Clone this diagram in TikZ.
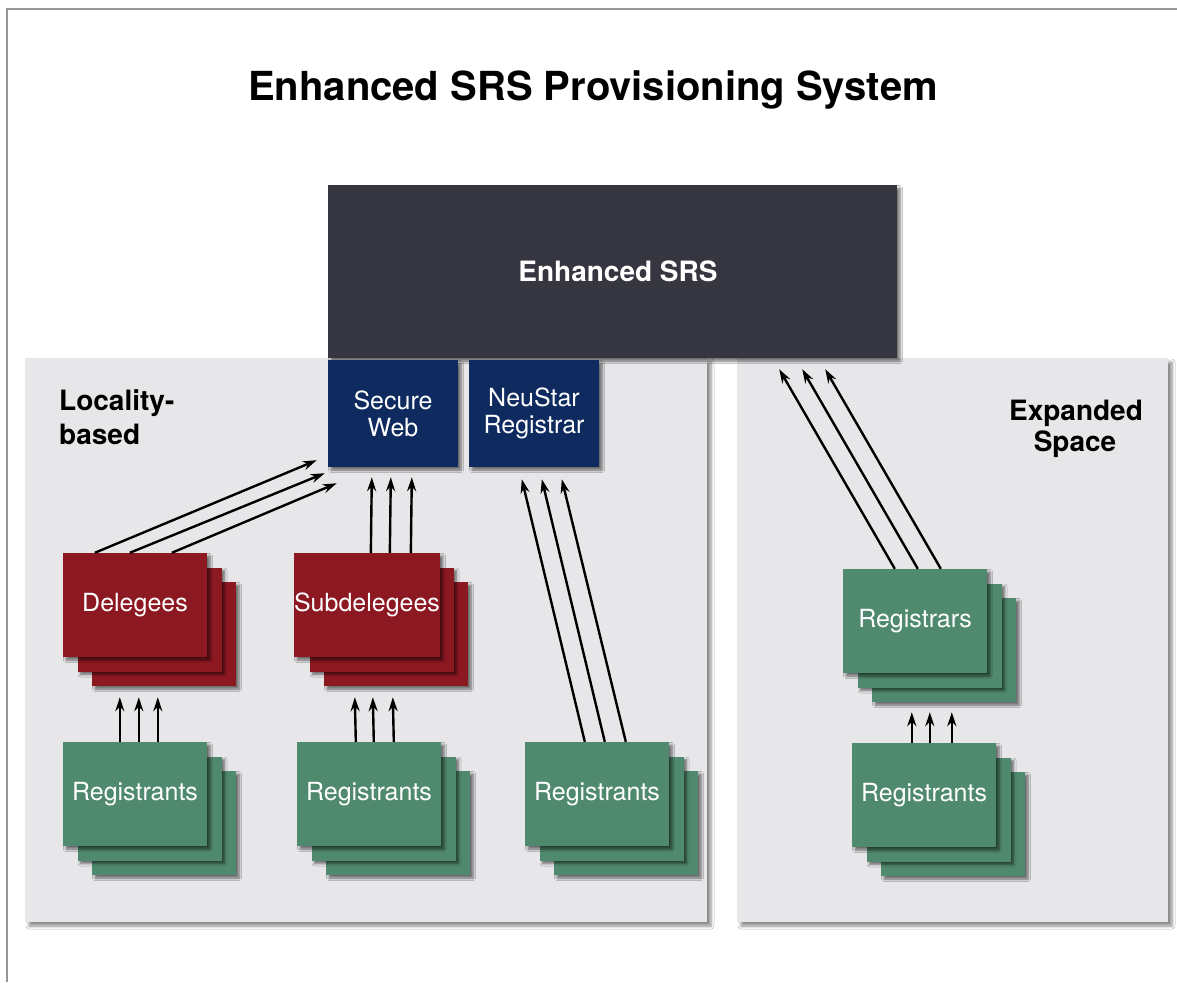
\documentclass[tikz,border=0pt]{standalone}
\usepackage{fontspec}
\setmainfont{TeX Gyre Heros}
\usetikzlibrary{shadows.blur,arrows.meta,calc}
\definecolor{srsdark}{RGB}{54,54,64}
\definecolor{navy}{RGB}{14,42,94}
\definecolor{cardred}{RGB}{140,24,34}
\definecolor{cardgreen}{RGB}{80,138,110}
\definecolor{panelgray}{RGB}{231,231,234}
\definecolor{framegray}{RGB}{150,150,150}
\tikzset{
  softshadow/.style={blur shadow={shadow xshift=3pt,shadow yshift=-3pt,shadow blur radius=2.5pt,shadow blur steps=6,shadow opacity=55}},
  panel/.style={rectangle,fill=panelgray,draw=none,inner sep=0pt,
    blur shadow={shadow xshift=4pt,shadow yshift=-4pt,shadow blur radius=3pt,shadow blur steps=6,shadow opacity=45}},
  card/.style={rectangle,minimum width=144pt,minimum height=104pt,inner sep=0pt,
    draw=none,text=white,font=\fontsize{25}{28}\selectfont,softshadow},
  bluebox/.style={rectangle,fill=navy,minimum width=130pt,minimum height=107pt,
    inner sep=0pt,text=white,align=center,font=\fontsize{25}{27}\selectfont,softshadow},
  lbl/.style={font=\bfseries\fontsize{28}{32}\selectfont,inner sep=0pt},
  conn/.style={line width=2.4pt,-{Stealth[length=14pt,width=9pt]}},
}
\newcommand{\cardstack}[5]{%
  \node[card,fill=#4] (#1c) at ({#2+72+29},{#3+52+29}) {};
  \node[card,fill=#4] (#1b) at ({#2+72+14.5},{#3+52+14.5}) {};
  \node[card,fill=#4] (#1) at ({#2+72},{#3+52}) {#5};
}
\begin{document}
\begin{tikzpicture}[x=1pt,y=-1pt]
\useasboundingbox (0,0) rectangle (1177,982);
\fill[white] (0,0) rectangle (1177,982);
\draw[framegray,line width=2pt] (7,982) -- (7,9) -- (1177,9);

\node[font=\bfseries\fontsize{40}{48}\selectfont,anchor=base] (title) at (593,100) {Enhanced SRS Provisioning System};

% panels
\node[panel,minimum width=682pt,minimum height=564pt] (leftpanel) at (366,640) {};
\node[panel,minimum width=431pt,minimum height=564pt] (rightpanel) at (952.5,640) {};

% central system
\node[rectangle,fill=srsdark,minimum width=569pt,minimum height=173pt,inner sep=0pt,
  text=white,font=\bfseries\fontsize{28}{32}\selectfont,softshadow] (srs) at (612.5,271.5) {\hspace*{11pt}Enhanced SRS};
\node[bluebox] (sw) at (393,413.5) {Secure\\Web};
\node[bluebox] (ns) at (534,413.5) {NeuStar\\Registrar};

% labels
\node[lbl,anchor=base west] (loc1) at (59,410) {Locality-};
\node[lbl,anchor=base west] (loc2) at (59,444) {based};
\node[lbl,anchor=base] (exp1) at (1076,420) {Expanded};
\node[lbl,anchor=base] (exp2) at (1075,451) {Space};

% stacks
\cardstack{del}{63}{553}{cardred}{Delegees}
\cardstack{sub}{295}{553}{cardred}{Subdelegees}
\cardstack{rega}{63}{742}{cardgreen}{Registrants}
\cardstack{regb}{297}{742}{cardgreen}{Registrants}
\cardstack{regc}{525}{742}{cardgreen}{Registrants}
\cardstack{rars}{843}{569}{cardgreen}{Registrars}
\cardstack{regd}{852}{743}{cardgreen}{Registrants}

% connectors
\draw[conn] ($(del.north west)+(32,0)$) -- ($(sw.south west)+(-11,-7)$);
\draw[conn] ($(del.north west)+(67,0)$) -- ($(sw.south west)+(-3,6)$);
\draw[conn] ($(del.north west)+(109,0)$) -- ($(sw.south west)+(9,16)$);

\draw[conn] ($(sub.north west)+(77,0)$) -- ($(sw.south west)+(44,10)$);
\draw[conn] ($(sub.north west)+(96,0)$) -- ($(sw.south west)+(63,10)$);
\draw[conn] ($(sub.north west)+(117,0)$) -- ($(sw.south west)+(84,10)$);

\draw[conn] ($(rega.north west)+(57,0)$) -- ($(del.south west)+(57,40)$);
\draw[conn] ($(rega.north west)+(76,0)$) -- ($(del.south west)+(76,40)$);
\draw[conn] ($(rega.north west)+(95,0)$) -- ($(del.south west)+(95,40)$);

\draw[conn] ($(regb.north west)+(59,0)$) -- ($(sub.south west)+(61,40)$);
\draw[conn] ($(regb.north west)+(77,0)$) -- ($(sub.south west)+(79,40)$);
\draw[conn] ($(regb.north west)+(97,0)$) -- ($(sub.south west)+(99,40)$);

\draw[conn] ($(regc.north west)+(60,0)$) -- ($(ns.south west)+(53,12)$);
\draw[conn] ($(regc.north west)+(80,0)$) -- ($(ns.south west)+(73,12)$);
\draw[conn] ($(regc.north west)+(101,0)$) -- ($(ns.south west)+(93,12)$);

\draw[conn] ($(rars.north west)+(52,0)$) -- ($(srs.south east)+(-118,11)$);
\draw[conn] ($(rars.north west)+(75,0)$) -- ($(srs.south east)+(-95,11)$);
\draw[conn] ($(rars.north west)+(98,0)$) -- ($(srs.south east)+(-72,11)$);

\draw[conn] ($(regd.north west)+(60,0)$) -- ($(rars.south west)+(69,39)$);
\draw[conn] ($(regd.north west)+(78,0)$) -- ($(rars.south west)+(87,39)$);
\draw[conn] ($(regd.north west)+(100,0)$) -- ($(rars.south west)+(109,39)$);
\end{tikzpicture}
\end{document}
